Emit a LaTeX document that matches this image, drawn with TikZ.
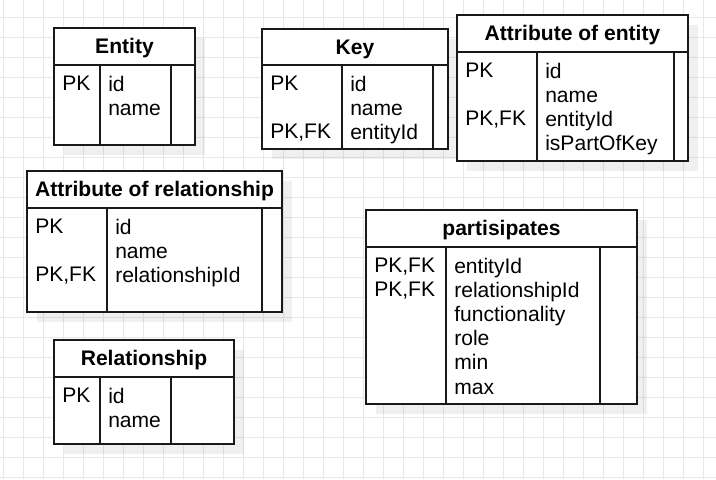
\documentclass[tikz,border=0pt]{standalone}
\usepackage{fontspec}
\setmainfont{Liberation Sans}
\tikzset{
  gridline/.style={draw=black!9, line width=0.75pt},
  shade/.style={fill=black, opacity=0.06},
  tbl/.style={draw=black!90, fill=white, line width=1.5pt},
  sep/.style={draw=black!90, line width=1.3pt},
  title/.style={font=\bfseries\fontsize{15.8}{18.15}\selectfont, text height=11.3pt, text depth=0pt, inner sep=0pt},
  col/.style={anchor=north west, align=left, inner sep=0pt, font=\fontsize{15.8}{18.15}\selectfont},
}
\begin{document}
\begin{tikzpicture}[x=0.75pt, y=-0.75pt]
      \useasboundingbox (0,0) rectangle (716,479);
      \fill[white] (0,0) rectangle (716,479);
      % grid
      \foreach \gx in {3,23,...,703} \draw[gridline] (\gx,0) -- (\gx,479);
      \foreach \gy in {17,37,...,477} \draw[gridline] (0,\gy) -- (716,\gy);
      % shadows
      \fill[shade] (64,38) rectangle (205,155);
      \fill[shade] (272,39) rectangle (458,159);
      \fill[shade] (467,25) rectangle (698,171);
      \fill[shade] (37,181) rectangle (292,322);
      \fill[shade] (376,220) rectangle (647,414);
      \fill[shade] (64,350) rectangle (244,454);
      % Entity
      \draw[tbl] (54,28) rectangle (195,145);
      \draw[sep] (54,65) -- (195,65) (100,65) -- (100,145) (171,65) -- (171,145);
      \node[title] (entity) at (124.5,46) {Entity};
      \node[col] (entityKeys) at (62,75.5) {PK};
      \node[col] (entityFields) at (108,75.5) {id\\name};
      % Key
      \draw[tbl] (262,29) rectangle (448,149);
      \draw[sep] (262,65) -- (448,65) (342,65) -- (342,149) (433,65) -- (433,149);
      \node[title] (key) at (355,46.5) {Key};
      \node[col] (keyKeys) at (270,75.5) {PK\\\mbox{}\\PK,FK};
      \node[col] (keyFields) at (350,75.5) {id\\name\\entityId};
      % Attribute of entity
      \draw[tbl] (457,15) rectangle (688,161);
      \draw[sep] (457,52) -- (688,52) (537,52) -- (537,161) (674,52) -- (674,161);
      \node[title] (attrEntity) at (572.5,33) {Attribute of entity};
      \node[col] (attrEntityKeys) at (465,62.5) {PK\\\mbox{}\\PK,FK};
      \node[col] (attrEntityFields) at (545,62.5) {id\\name\\entityId\\isPartOfKey};
      % Attribute of relationship
      \draw[tbl] (27,171) rectangle (282,312);
      \draw[sep] (27,208) -- (282,208) (107,208) -- (107,312) (262,208) -- (262,312);
      \node[title] (attrRel) at (154.5,189) {Attribute of relationship};
      \node[col] (attrRelKeys) at (35,218.5) {PK\\\mbox{}\\PK,FK};
      \node[col] (attrRelFields) at (115,218.5) {id\\name\\relationshipId};
      % partisipates
      \draw[tbl] (366,210) rectangle (637,404);
      \draw[sep] (366,247) -- (637,247) (446,247) -- (446,404) (600,247) -- (600,404);
      \node[title] (partisipates) at (501.5,228) {partisipates};
      \node[col] (partKeys) at (374,257.5) {PK,FK\\PK,FK};
      \node[col] (partFields) at (454,257.5) {entityId\\relationshipId\\functionality\\role\\min\\max};
      % Relationship
      \draw[tbl] (54,340) rectangle (234,444);
      \draw[sep] (54,377) -- (234,377) (100,377) -- (100,444) (171,377) -- (171,444);
      \node[title] (relationship) at (144,358) {Relationship};
      \node[col] (relKeys) at (62,387.5) {PK};
      \node[col] (relFields) at (108,387.5) {id\\name};
    \end{tikzpicture}
\end{document}
